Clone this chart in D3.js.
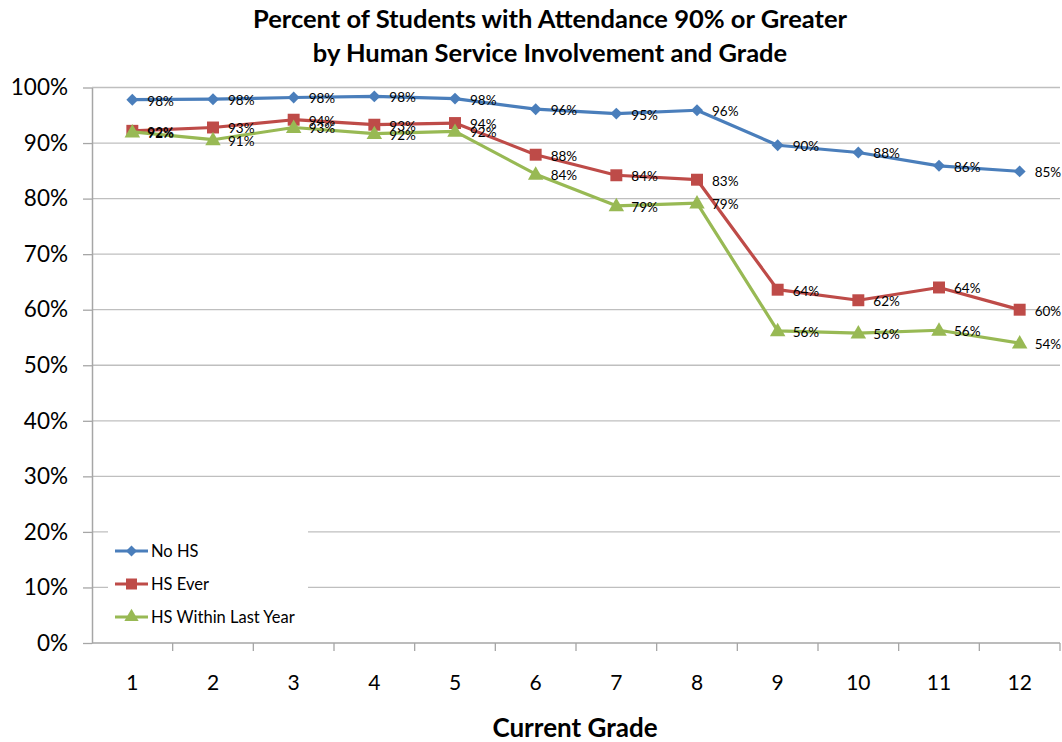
<!DOCTYPE html>
<html>
<head>
<meta charset="utf-8">
<script src="https://cdn.jsdelivr.net/npm/d3@7"></script>
<style>
  body { margin: 0; background: #fff; }
  svg { display: block; font-family: Lato, "Open Sans", sans-serif; }
</style>
</head>
<body>
<svg id="chart" width="1062" height="742"></svg>
<script>
// grades on the x axis
const grades = [1, 2, 3, 4, 5, 6, 7, 8, 9, 10, 11, 12];
const yTicks = [0, 10, 20, 30, 40, 50, 60, 70, 80, 90, 100];

// percent of students with attendance >= 90%
const noHS = [97.8, 97.9, 98.2, 98.4, 98.0, 96.1, 95.3, 95.9, 89.6, 88.3, 85.9, 84.9];
const hsEver = [92.2, 92.8, 94.2, 93.3, 93.6, 87.9, 84.2, 83.4, 63.6, 61.7, 64.0, 60.0];
const hsLastYear = [92.0, 90.6, 92.8, 91.7, 92.1, 84.4, 78.7, 79.2, 56.2, 55.8, 56.3, 54.0];

const seriesNames = ["No HS", "HS Ever", "HS Within Last Year"];
const seriesColors = ["#4A7EBB", "#BE4B48", "#98B954"];
const seriesData = [noHS, hsEver, hsLastYear];

const svg = d3.select("#chart");
const pLeft = 92, pRight = 1060, pTop = 87.5, pBottom = 643;

const x = d3.scaleBand().domain(grades).range([pLeft, pRight]);
const y = d3.scaleLinear().domain([0, 100]).range([pBottom, pTop]);

// title
svg.append("text")
  .attr("x", 550).attr("y", 28)
  .attr("text-anchor", "middle")
  .attr("font-size", 25.5).attr("font-weight", "bold")
  .text("Percent of Students with Attendance 90% or Greater");
svg.append("text")
  .attr("x", 550).attr("y", 62)
  .attr("text-anchor", "middle")
  .attr("font-size", 25.5).attr("font-weight", "bold")
  .text("by Human Service Involvement and Grade");

// gridlines
svg.append("g")
  .selectAll("line")
  .data(yTicks.filter(d => d > 0))
  .enter().append("line")
  .attr("x1", pLeft).attr("x2", pRight)
  .attr("y1", d => y(d)).attr("y2", d => y(d))
  .attr("stroke", "#BFBFBF").attr("stroke-width", 1.3);

// y axis
const yAxis = svg.append("g")
  .attr("transform", `translate(${pLeft},0)`)
  .call(d3.axisLeft(y).tickValues(yTicks).tickFormat(d => d + "%").tickSize(9).tickSizeOuter(0));
yAxis.select(".domain").attr("stroke", "#A6A6A6").attr("stroke-width", 1.5);
yAxis.selectAll(".tick line").attr("stroke", "#A6A6A6").attr("stroke-width", 1.3);
yAxis.selectAll(".tick text")
  .attr("x", -24)
  .attr("font-size", 22.5).attr("font-family", "Lato, sans-serif").attr("fill", "#000");

// x axis (ticks between categories)
const xAxisG = svg.append("g");
xAxisG.append("line")
  .attr("x1", pLeft).attr("x2", pRight)
  .attr("y1", pBottom).attr("y2", pBottom)
  .attr("stroke", "#A6A6A6").attr("stroke-width", 1.5);
xAxisG.selectAll(".xt")
  .data(grades)
  .enter().append("line")
  .attr("class", "xt")
  .attr("x1", d => x(d) + x.bandwidth()).attr("x2", d => x(d) + x.bandwidth())
  .attr("y1", pBottom).attr("y2", pBottom + 8)
  .attr("stroke", "#A6A6A6").attr("stroke-width", 1.3);
xAxisG.selectAll(".xl")
  .data(grades)
  .enter().append("text")
  .attr("x", d => x(d) + x.bandwidth() / 2)
  .attr("y", 690)
  .attr("text-anchor", "middle")
  .attr("font-size", 21)
  .text(d => d);

svg.append("text")
  .attr("x", 575).attr("y", 737)
  .attr("text-anchor", "middle")
  .attr("font-size", 26).attr("font-weight", "bold")
  .text("Current Grade");

// markers
function drawMarker(g, idx, size) {
  if (idx === 0) {
    // diamond = square turned 45 degrees
    g.append("path").attr("d", d3.symbol().type(d3.symbolSquare).size(size * 5.5)())
      .attr("transform", "rotate(45)");
  } else if (idx === 1) {
    g.append("path").attr("d", d3.symbol().type(d3.symbolSquare).size(size * 11)());
  } else {
    g.append("path").attr("d", d3.symbol().type(d3.symbolTriangle).size(size * 8)());
  }
}

const line = d3.line()
  .x((d, i) => x(grades[i]) + x.bandwidth() / 2)
  .y(d => y(d));

seriesData.forEach((vals, s) => {
  const g = svg.append("g");
  g.append("path")
    .datum(vals)
    .attr("d", line)
    .attr("fill", "none")
    .attr("stroke", seriesColors[s])
    .attr("stroke-width", 3.2)
    .attr("stroke-linejoin", "round");
  vals.forEach((v, i) => {
    const m = g.append("g")
      .attr("transform", `translate(${x(grades[i]) + x.bandwidth() / 2},${y(v) + (s === 2 ? 1 : 0)})`)
      .attr("fill", seriesColors[s]);
    drawMarker(m, s, 13);
  });
});

// data labels
seriesData.forEach((vals, s) => {
  svg.append("g")
    .selectAll("text")
    .data(vals)
    .enter().append("text")
    .attr("x", (d, i) => x(grades[i]) + x.bandwidth() / 2 + 15)
    .attr("y", d => y(d) + 6)
    .attr("font-size", 13.5)
    .attr("fill", "#000")
    .text(d => Math.round(d) + "%");
});

// legend
const lg = svg.append("g");
lg.append("rect")
  .attr("x", 108).attr("y", 530).attr("width", 200).attr("height", 108)
  .attr("fill", "#fff");
seriesNames.forEach((name, s) => {
  const ly = 551 + s * 33;
  lg.append("line")
    .attr("x1", 115).attr("x2", 148)
    .attr("y1", ly).attr("y2", ly)
    .attr("stroke", seriesColors[s]).attr("stroke-width", 3.2);
  const m = lg.append("g")
    .attr("transform", `translate(131.5,${ly})`)
    .attr("fill", seriesColors[s]);
  drawMarker(m, s, 11);
  lg.append("text")
    .attr("x", 151).attr("y", ly + 5.5)
    .attr("font-size", 16.5)
    .text(name);
});
</script>
</body>
</html>
